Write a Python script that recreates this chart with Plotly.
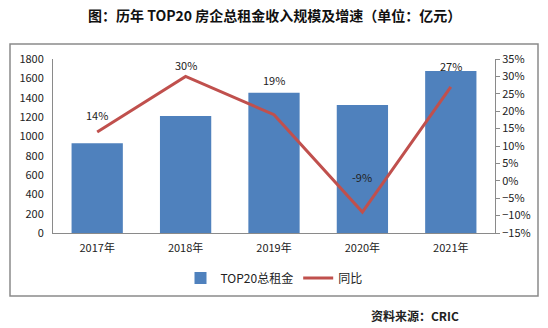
import plotly.graph_objects as go

years = ["2017年", "2018年", "2019年", "2020年", "2021年"]
rent_total = [928, 1210, 1451, 1324, 1676]
yoy_pct = [14, 30, 19, -9, 27]
yoy_labels = ["14%", "30%", "19%", "-9%", "27%"]
label_shift = [17, 11, 35, 35, 21]

W, H = 548, 328
L, R, T, B = 53, 495, 59, 233

def px(x):
    return (x - L) / (R - L)

def py(y):
    return (B - y) / (B - T)

font_cjk = "Noto Sans CJK SC"
fig = go.Figure()
fig.add_trace(go.Bar(x=years, y=rent_total, name="TOP20总租金",
                     marker=dict(color="#4F81BD", line=dict(width=0))))
fig.add_trace(go.Scatter(x=years, y=yoy_pct, name="同比", yaxis="y2",
                         mode="lines", line=dict(color="#C0504D", width=3)))

for yr, v, lab, s in zip(years, yoy_pct, yoy_labels, label_shift):
    fig.add_annotation(x=yr, y=v, xref="x", yref="y2", text=lab, showarrow=False,
                       yshift=s, font=dict(size=11, color="#222", family=font_cjk))

fig.add_annotation(x=px(274), y=py(15), xref="paper", yref="paper",
                   text="<b>图：历年 TOP20 房企总租金收入规模及增速（单位：亿元）</b>",
                   showarrow=False, xanchor="center", yanchor="middle",
                   font=dict(size=14, color="#111", family=font_cjk))
fig.add_annotation(x=px(461), y=py(315), xref="paper", yref="paper",
                   text="<b>资料来源：CRIC</b>", showarrow=False,
                   xanchor="right", yanchor="middle",
                   font=dict(size=12, color="#222", family=font_cjk))

fig.add_shape(type="rect", xref="paper", yref="paper",
              x0=px(10), x1=px(538), y0=py(296), y1=py(44),
              line=dict(color="#8a8a8a", width=1.5), fillcolor="rgba(0,0,0,0)", layer="below")

fig.update_layout(
    width=W, height=H,
    margin=dict(l=L, r=W - R, t=T, b=H - B, pad=0),
    paper_bgcolor="white", plot_bgcolor="white",
    bargap=0.42,
    showlegend=True,
    legend=dict(orientation="h", x=0.5, xanchor="center", y=py(278), yanchor="middle",
                font=dict(size=12, color="#222", family=font_cjk),
                itemwidth=30, tracegroupgap=0),
    xaxis=dict(showline=True, linecolor="#8a8a8a", linewidth=1, ticks="outside",
               ticklen=5, tickcolor="rgba(255,255,255,0)",
               tickfont=dict(size=11, color="#222", family=font_cjk),
               showgrid=False, fixedrange=True),
    yaxis=dict(range=[0, 1800], dtick=200, showline=True, linecolor="#8a8a8a",
               linewidth=1, ticks="", showgrid=False, zeroline=False,
               tickfont=dict(size=11, color="#222", family=font_cjk), ticklabelstandoff=6),
    yaxis2=dict(range=[-15, 35], dtick=5, overlaying="y", side="right",
                ticksuffix="%", showline=True, linecolor="#8a8a8a", linewidth=1,
                ticks="outside", ticklen=4, tickcolor="#8a8a8a", showgrid=False,
                zeroline=False, tickfont=dict(size=11, color="#222", family=font_cjk)),
)

fig.write_html("out.html")
